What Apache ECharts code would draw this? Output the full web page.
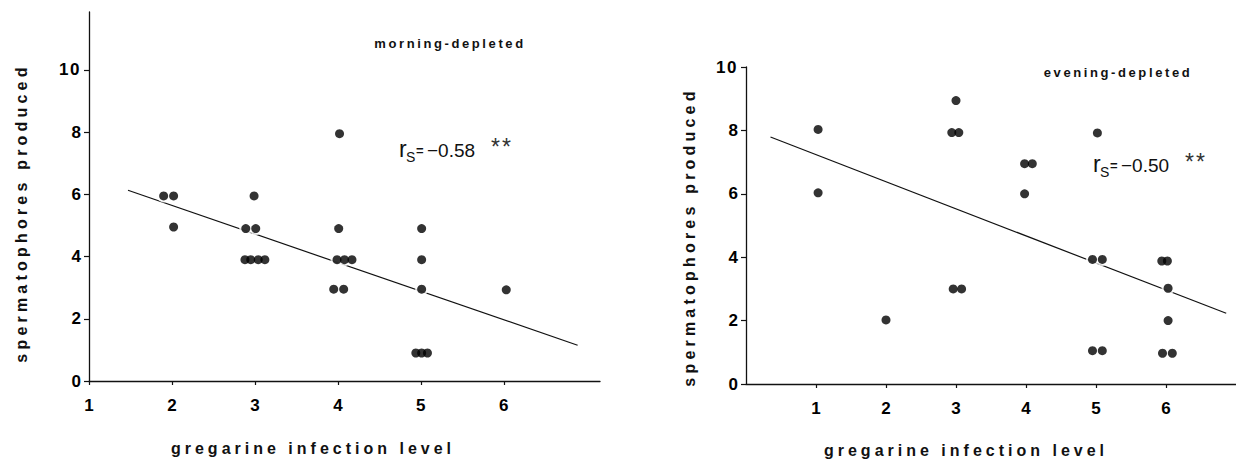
<!DOCTYPE html>
<html><head><meta charset="utf-8">
<script src="https://cdn.jsdelivr.net/npm/echarts@6/dist/echarts.min.js"></script>
<style>html,body{margin:0;padding:0;background:#fff}#c{width:1236px;height:462px}</style>
</head><body><div id="c"></div><script>
// ---- data ----
const xTicksLeft = [1, 2, 3, 4, 5, 6];
const xTicksRight = [1, 2, 3, 4, 5, 6];
const yTicks = [0, 2, 4, 6, 8, 10];

// morning-depleted (left panel) – x includes the small horizontal offsets of overlapping dots
const morningX = [1.90, 2.02, 2.02, 2.99, 2.89, 3.01, 2.88, 2.95, 3.04, 3.12, 4.02, 4.01, 3.99, 4.08, 4.17, 3.95, 4.07, 5.01, 5.01, 5.01, 4.94, 5.01, 5.08, 6.03];
const morningY = [5.95, 5.95, 4.95, 5.95, 4.9, 4.9, 3.9, 3.9, 3.9, 3.9, 7.95, 4.9, 3.9, 3.9, 3.9, 2.95, 2.95, 4.9, 3.9, 2.95, 0.9, 0.9, 0.9, 2.93];
const morningFitX = [1.47, 6.89];
const morningFitY = [6.13, 1.15];

// evening-depleted (right panel)
const eveningX = [1.03, 1.03, 2.0, 3.0, 2.94, 3.04, 2.96, 3.08, 3.98, 4.09, 3.98, 5.02, 4.95, 5.09, 4.95, 5.09, 5.94, 6.02, 6.03, 6.03, 5.95, 6.09];
const eveningY = [8.03, 6.03, 2.02, 8.94, 7.93, 7.93, 3.0, 3.0, 6.95, 6.95, 6.0, 7.92, 3.93, 3.93, 1.05, 1.05, 3.88, 3.88, 3.02, 2.0, 0.97, 0.97];
const eveningFitX = [0.35, 6.86];
const eveningFitY = [7.79, 2.23];

const xTitle = 'gregarine infection level';
const yTitle = 'spermatophores produced';
const panelTitles = ['morning-depleted', 'evening-depleted'];
const rsValues = ['−0.58', '−0.50'];

// ---- build ----
const FONT = '"Liberation Sans", Arial, Helvetica, sans-serif';
const INK = '#111';
const zip = (a, b) => a.map((v, i) => [v, b[i]]);

function xAxis(grid, min, max, ticks) {
  return {
    type: 'value', gridIndex: grid, min: min, max: max, interval: 1,
    axisLine: { show: true, onZero: false, lineStyle: { color: INK, width: 1.3 } },
    axisTick: { show: true, length: 4, customValues: ticks, lineStyle: { color: INK, width: 1.2 } },
    axisLabel: { customValues: ticks, margin: 16, color: '#000', fontSize: 17, fontWeight: 'bold', fontFamily: FONT,
      formatter: v => ticks.includes(v) ? String(v) : '' },
    splitLine: { show: false }
  };
}
function yAxis(grid, max) {
  return {
    type: 'value', gridIndex: grid, min: 0, max: max, interval: 2,
    axisLine: { show: true, onZero: false, lineStyle: { color: INK, width: 1.3 } },
    axisTick: { show: true, length: 5, customValues: yTicks, lineStyle: { color: INK, width: 1.2 } },
    axisLabel: { customValues: yTicks, margin: 8, color: '#000', fontSize: 17, fontWeight: 'bold', fontFamily: FONT,
      formatter: v => yTicks.includes(v) ? String(v) : '' },
    splitLine: { show: false }
  };
}
function panelSeries(i, xs, ys, fx, fy) {
  const pts = zip(xs, ys);
  return [
    { type: 'line', xAxisIndex: i, yAxisIndex: i, data: zip(fx, fy), showSymbol: false, silent: true,
      lineStyle: { color: INK, width: 1.2 }, z: 1, animation: false },
    { type: 'scatter', xAxisIndex: i, yAxisIndex: i, data: pts, symbolSize: 13, silent: true,
      itemStyle: { color: '#fff' }, z: 2, animation: false },
    { type: 'scatter', xAxisIndex: i, yAxisIndex: i, data: pts, symbolSize: 9, silent: true,
      itemStyle: { color: '#000' }, z: 3, animation: false }
  ];
}
function txt(text, x, y, size, weight, align, extra, fill) {
  return Object.assign({ type: 'text', x: x, y: y, silent: true,
    style: { text: text, fill: fill || INK, font: weight + ' ' + size + 'px ' + FONT, align: align || 'center', verticalAlign: 'middle' } }, extra || {});
}
function rsGroup(x, y, val) {
  return [
    txt('r', x, y - 1, 23, 'normal', 'left'),
    txt('S', x + 7, y + 7, 14, 'normal', 'left'),
    txt('=', x + 17, y, 13, 'bold', 'left'),
    txt(val, x + 28, y, 19, 'normal', 'left'),
    txt('**', x + 92, y - 3, 23, 'normal', 'left', null, '#333')
  ];
}

const option = {
  backgroundColor: '#fff',
  animation: false,
  grid: [
    { left: 89, top: 12, width: 511, height: 369 },
    { left: 746, top: 67, width: 491, height: 317 }
  ],
  xAxis: [xAxis(0, 1, 7.16, xTicksLeft), xAxis(1, 0, 7, xTicksRight)],
  yAxis: [yAxis(0, 11.86), yAxis(1, 10)],
  series: [].concat(
    panelSeries(0, morningX, morningY, morningFitX, morningFitY),
    panelSeries(1, eveningX, eveningY, eveningFitX, eveningFitY)
  ),
  graphic: [].concat([
    txt(yTitle, 21, 213, 16, 'bold', 'center', { rotation: Math.PI / 2 }),
    txt(yTitle, 689, 237, 16, 'bold', 'center', { rotation: Math.PI / 2 }),
    txt(xTitle, 313, 448, 16, 'bold'),
    txt(xTitle, 966, 450, 16, 'bold'),
    txt(panelTitles[0], 450, 43, 13, 'bold'),
    txt(panelTitles[1], 1118, 72, 13, 'bold')
  ], rsGroup(399, 150, rsValues[0]), rsGroup(1093, 165, rsValues[1]))
};

const chart = echarts.init(document.getElementById('c'), null, { renderer: 'svg', width: 1236, height: 462 });
chart.setOption(option);

const spacing = {};
spacing[yTitle] = '4.2px';
spacing[xTitle] = '4px';
spacing[panelTitles[0]] = '2.6px';
spacing[panelTitles[1]] = '2.6px';
spacing['**'] = '2px';
spacing['10'] = '1.5px';
function applySpacing() {
  document.querySelectorAll('#c svg text').forEach(t => {
    const s = spacing[t.textContent];
    if (s) t.style.letterSpacing = s;
  });
}
chart.on('finished', applySpacing);
applySpacing();
setTimeout(applySpacing, 50);
</script></body></html>
